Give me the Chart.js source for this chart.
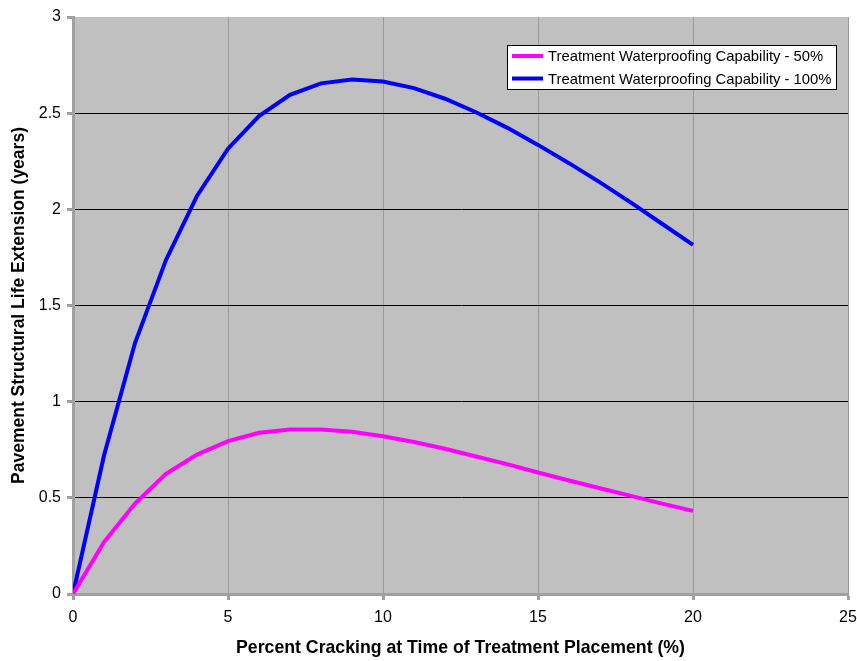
<!DOCTYPE html>
<html>
<head>
<meta charset="utf-8">
<script src="https://cdn.jsdelivr.net/npm/chart.js@4"></script>
<style>
  html, body { margin: 0; padding: 0; background: #fff; }
  #wrap { width: 857px; height: 661px; }
</style>
</head>
<body>
<div id="wrap"><canvas id="life"></canvas></div>
<script>
// percent cracking at placement
let cracking = [0, 1, 2, 3, 4, 5, 6, 7, 8, 9, 10, 11, 12, 13, 14, 15, 16, 17, 18, 19, 20]
// life extension (years) for each waterproofing level
let cap50 = [0, 0.27, 0.47, 0.625, 0.725, 0.795, 0.838, 0.855, 0.855, 0.843, 0.82, 0.79, 0.755, 0.715, 0.675, 0.632, 0.59, 0.55, 0.51, 0.47, 0.432]
let cap100 = [0, 0.72, 1.305, 1.737, 2.07, 2.315, 2.485, 2.595, 2.655, 2.675, 2.665, 2.63, 2.575, 2.505, 2.425, 2.335, 2.24, 2.14, 2.035, 1.925, 1.815]
let labels = ['Treatment Waterproofing Capability - 50%', 'Treatment Waterproofing Capability - 100%']
let colors = ['#ff00ff', '#0000ff']

const FONT = '"Liberation Sans", Arial, sans-serif'

function pts(ys) {
  return cracking.map((x, i) => ({x: x, y: ys[i]}))
}

// grey plot background
const plotBg = {
  id: 'plotBg',
  beforeDraw(chart) {
    const {ctx, chartArea: a} = chart
    ctx.save()
    ctx.fillStyle = '#c0c0c0'
    ctx.fillRect(a.left, a.top, a.right - a.left, a.bottom - a.top)
    ctx.restore()
  }
}

// boxed legend sitting inside the plot, top right
const boxLegend = {
  id: 'boxLegend',
  afterDraw(chart) {
    const ctx = chart.ctx
    const x = 507.5, y = 45.5, w = 329, h = 44
    ctx.save()
    ctx.fillStyle = '#fff'
    ctx.fillRect(x, y, w, h)
    ctx.strokeStyle = '#000'
    ctx.lineWidth = 1
    ctx.strokeRect(x, y, w, h)
    ctx.font = '14.8px ' + FONT
    ctx.textBaseline = 'middle'
    chart.data.datasets.forEach((ds, i) => {
      const ly = 56 + i * 22.5
      ctx.strokeStyle = ds.borderColor
      ctx.lineWidth = 4
      ctx.beginPath()
      ctx.moveTo(512, ly)
      ctx.lineTo(543, ly)
      ctx.stroke()
      ctx.fillStyle = '#000'
      ctx.fillText(ds.label, 548, ly + 1)
    })
    ctx.restore()
  }
}

let graph = document.getElementById('life')
let lineGraph = new Chart(graph, {
  type: 'line',
  data: {
    datasets: [{
      label: labels[0],
      data: pts(cap50),
      borderColor: colors[0],
      borderWidth: 4,
      pointRadius: 0,
      fill: false,
      tension: 0
    }, {
      label: labels[1],
      data: pts(cap100),
      borderColor: colors[1],
      borderWidth: 4,
      pointRadius: 0,
      fill: false,
      tension: 0
    }]
  },
  options: {
    responsive: true,
    maintainAspectRatio: false,
    animation: false,
    layout: { padding: 0 },
    plugins: { legend: { display: false }, tooltip: { enabled: false } },
    scales: {
      x: {
        type: 'linear',
        min: 0,
        max: 25,
        afterFit(s) { s.height = 67; s.paddingLeft = 0; s.paddingRight = 9 },
        ticks: { stepSize: 5, color: '#000', padding: 8, maxRotation: 0,
                 font: { family: FONT, size: 16 } },
        grid: { color: '#9a9a9a', lineWidth: 1, tickColor: '#a0a0a0', tickWidth: 3, tickLength: 6 },
        border: { color: '#a0a0a0', width: 3 },
        title: {
          display: true,
          text: 'Percent Cracking at Time of Treatment Placement (%)',
          color: '#000',
          padding: { top: 0, bottom: 2 },
          font: { family: FONT, size: 17.7, weight: 'bold' }
        }
      },
      y: {
        min: 0,
        max: 3,
        afterFit(s) { s.width = 73; s.paddingTop = 17; s.paddingBottom = 0 },
        ticks: { stepSize: 0.5, color: '#000', padding: 6,
                 callback: (v) => String(+v.toFixed(1)),
                 font: { family: FONT, size: 16 } },
        grid: {
          color: (c) => c.tick && c.tick.value === 3 ? 'rgba(0,0,0,0)' : '#000',
          lineWidth: 1, tickColor: '#a0a0a0', tickWidth: 3, tickLength: 6
        },
        border: { color: '#a0a0a0', width: 3 },
        title: {
          display: true,
          text: 'Pavement Structural Life Extension (years)',
          color: '#000',
          padding: { top: 9, bottom: 0 },
          font: { family: FONT, size: 17.5, weight: 'bold' }
        }
      }
    }
  },
  plugins: [plotBg, boxLegend]
})
</script>
</body>
</html>
